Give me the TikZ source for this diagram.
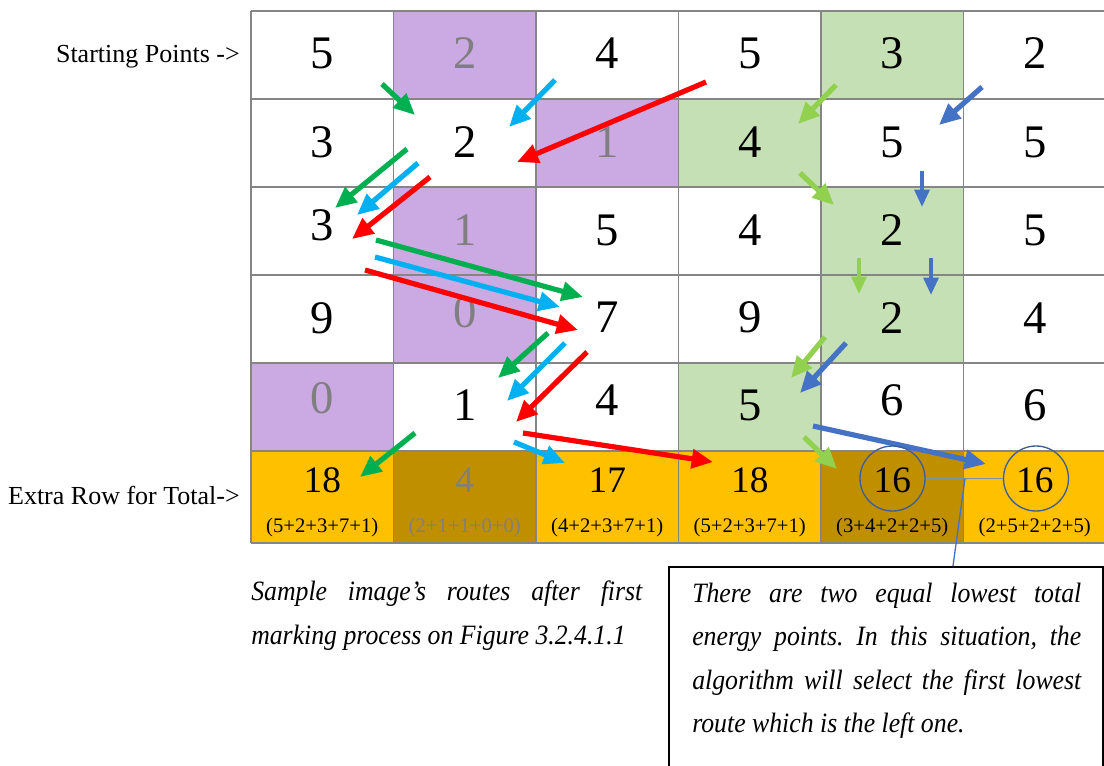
\documentclass[tikz,border=0pt]{standalone}
\usepackage{fontspec}
\setmainfont{Liberation Serif}
\newfontfamily\capfont[FakeStretch=0.92]{Liberation Serif}
\usetikzlibrary{arrows.meta}
\definecolor{cellpurple}{HTML}{CBA9E3}
\definecolor{cellgreen}{HTML}{C5E0B4}
\definecolor{cellorange}{HTML}{FFC000}
\definecolor{cellgold}{HTML}{BF8F00}
\definecolor{numgray}{HTML}{7F7F7F}
\definecolor{gridgray}{HTML}{858585}
\definecolor{rgreen}{HTML}{00B050}
\definecolor{rcyan}{HTML}{00B0F0}
\definecolor{rred}{HTML}{FF0000}
\definecolor{rlgreen}{HTML}{92D050}
\definecolor{rblue}{HTML}{4472C4}
\definecolor{circblue}{HTML}{3E5F95}
\definecolor{linkgray}{HTML}{7F90A8}
\newcommand\mycell[3]{\fill[#3] ({251+#1*142.5},{11+#2*88}) rectangle ({251+(#1+1)*142.5},{11+(#2+1)*88});}
\frenchspacing
\begin{document}
\begin{tikzpicture}[x=0.75pt,y=-0.75pt,
  gridline/.style={draw=gridgray,line width=0.8pt},
  num/.style={inner sep=0pt,font=\fontsize{35pt}{35pt}\selectfont},
  totnum/.style={inner sep=0pt,font=\fontsize{28pt}{28pt}\selectfont},
  totsum/.style={inner sep=0pt,font=\fontsize{15.5pt}{15.5pt}\selectfont},
  sidelabel/.style={inner sep=0pt,anchor=base east,font=\fontsize{19.5pt}{19.5pt}\selectfont},
  captext/.style={inner sep=0pt,anchor=base west,font=\fontsize{21pt}{21pt}\capfont\itshape},
  route/.style={line width=3.9pt,-{Triangle[length=16pt,width=14pt]}},
  routethin/.style={line width=3pt,-{Triangle[length=13pt,width=11pt]}}]
\useasboundingbox (0,0) rectangle (1104,765);
% cell fills
\mycell{1}{0}{cellpurple}
\mycell{2}{1}{cellpurple}
\mycell{1}{2}{cellpurple}
\mycell{1}{3}{cellpurple}
\mycell{0}{4}{cellpurple}
\mycell{4}{0}{cellgreen}
\mycell{3}{1}{cellgreen}
\mycell{4}{2}{cellgreen}
\mycell{4}{3}{cellgreen}
\mycell{3}{4}{cellgreen}
\fill[cellorange] (251,451) rectangle (1106,543);
\fill[cellgold] (393.5,451) rectangle (536,543);
\fill[cellgold] (821,451) rectangle (963.5,543);
% grid
\foreach \i in {0,...,6} \draw[gridline] ({251+\i*142.5},11) -- ({251+\i*142.5},543);
\foreach \yy in {11,99,187,275,363,451,543} \draw[gridline] (251,\yy) -- (1106,\yy);
% numbers
\foreach \c/\r/\v/\dy/\tc in {
  0/0/5/57.5/black, 1/0/2/57.5/numgray, 2/0/4/57.5/black, 3/0/5/57.5/black, 4/0/3/57.5/black, 5/0/2/57.5/black,
  0/1/3/58/black, 1/1/2/58/black, 2/1/1/58/numgray, 3/1/4/58/black, 4/1/5/58/black, 5/1/5/58/black,
  0/2/3/53/black, 1/2/1/58/numgray, 2/2/5/58/black, 3/2/4/58/black, 4/2/2/58/black, 5/2/5/58/black,
  0/3/9/58/black, 1/3/0/52/numgray, 2/3/7/57/black, 3/3/9/57/black, 4/3/2/58/black, 5/3/4/58/black,
  0/4/0/50/numgray, 1/4/1/57/black, 2/4/4/52/black, 3/4/5/57/black, 4/4/6/52/black, 5/4/6/57/black}
  \node[num,text=\tc,anchor=base] (n\r\c) at ({251+(\c+0.5)*142.5},{11+\r*88+\dy}) {\v};
% totals
\foreach \c/\v/\s/\tc in {0/18/{(5+2+3+7+1)}/black, 1/4/{(2+1+1+0+0)}/numgray, 2/17/{(4+2+3+7+1)}/black,
  3/18/{(5+2+3+7+1)}/black, 4/16/{(3+4+2+2+5)}/black, 5/16/{(2+5+2+2+5)}/black}{
  \node[totnum,text=\tc,anchor=base] (t\c) at ({251+(\c+0.5)*142.5},492) {\v};
  \node[totsum,text=\tc,anchor=base] (s\c) at ({251+(\c+0.5)*142.5},532) {\s};
}
% side labels
\node[sidelabel] (lstart) at (240,62) {Starting Points ->};
\node[sidelabel] (lextra) at (240,504) {Extra Row for Total->};
% routes
\foreach \n/\col/\ax/\ay/\bx/\by in {
  g1/rgreen/382/84/415/115, g2/rgreen/407/149/335/208, g3/rgreen/376/240/583/297,
  g4/rgreen/548/333/498/378, g5/rgreen/415/433/360/477,
  c1/rcyan/555/80/509/127, c2/rcyan/418/163/357/215, c3/rcyan/375/257/560/307,
  c4/rcyan/565/343/507/401, c5/rcyan/514/442/565/463,
  r1/rred/706/82/517/162, r2/rred/430/177/352/239, r3/rred/365/270/578/330,
  r4/rred/587/352/516/422, r5/rred/523/433/713/462,
  l1/rlgreen/836/85/798/124, l2/rlgreen/800/173/834/205,
  l4/rlgreen/825/337/791/378, l5/rlgreen/804/437/837/469,
  b1/rblue/982/87/939/125, b4/rblue/846/343/800/393, b5/rblue/813/426/986/464}{
  \coordinate (\n s) at (\ax,\ay);
  \coordinate (\n e) at (\bx,\by);
  \draw[route,\col] (\n s) -- (\n e);
}
\foreach \n/\col/\ax/\ay/\bx/\by in {
  l3/rlgreen/859/258/859/294, b2/rblue/922/171/922/207, b3/rblue/931/258/931/295}{
  \coordinate (\n s) at (\ax,\ay);
  \coordinate (\n e) at (\bx,\by);
  \draw[routethin,\col] (\n s) -- (\n e);
}
% circles and link
\node[circle,draw=circblue,line width=1pt,minimum size=48.75pt,inner sep=0pt] (circ1) at (892.5,478.5) {};
\node[circle,draw=circblue,line width=1pt,minimum size=48.75pt,inner sep=0pt] (circ2) at (1036,478.5) {};
\draw[linkgray,line width=0.9pt] (circ1.east) -- (circ2.west);
\coordinate (junc) at (965,478.5);
% note box
\node[draw=black,line width=1.2pt,anchor=north west,minimum width=325.5pt,minimum height=165pt,inner sep=0pt] (notebox) at (668,566) {};
\coordinate (leadend) at (953,566);
\draw[rblue,line width=1pt] (junc) -- (leadend);
% captions
\node[captext] (cap1) at (251,600) {\makebox[293.25pt][s]{Sample image’s routes after first}};
\node[captext] (cap2) at (251,644) {marking process on Figure 3.2.4.1.1};
\node[captext] (note1) at (692,602) {\makebox[291.75pt][s]{There are two equal lowest total}};
\node[captext] (note2) at (692,645.5) {\makebox[291.75pt][s]{energy points. In this situation, the}};
\node[captext] (note3) at (692,689) {\makebox[291.75pt][s]{algorithm will select the first lowest}};
\node[captext] (note4) at (692,732.5) {route which is the left one.};
\end{tikzpicture}
\end{document}
